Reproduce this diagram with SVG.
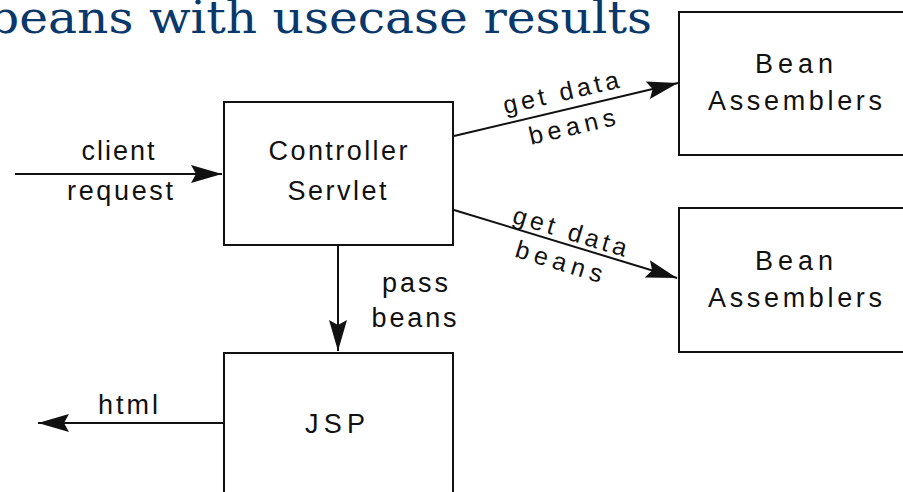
<svg xmlns="http://www.w3.org/2000/svg" width="903" height="492" viewBox="0 0 903 492">
<style>
.box{fill:#fff;stroke:#111;stroke-width:2}
.t{font-family:"Liberation Sans",Arial,sans-serif;font-size:27px;fill:#111;text-anchor:middle}
.s{font-family:"Liberation Sans",Arial,sans-serif;font-size:25px;fill:#111;text-anchor:middle}
.ln{stroke:#111;stroke-width:2;fill:none;marker-end:url(#ah)}
.title{font-family:"DejaVu Serif","Liberation Serif",serif;font-size:44px;fill:#0a386a}
</style>
<defs>
<marker id="ah" markerUnits="userSpaceOnUse" viewBox="-32 -11 34 22" refX="0" refY="0" markerWidth="34" markerHeight="22" orient="auto">
<path d="M0,0 L-31,-9 L-26,0 L-31,9 Z" fill="#111"/>
</marker>
</defs>
<rect width="903" height="492" fill="#fff"/>
<text class="title" x="-12" y="33" textLength="664" lengthAdjust="spacingAndGlyphs">beans with usecase results</text>

<g id="connectors">
<line class="ln" x1="15" y1="174" x2="222" y2="174"/>
<line class="ln" x1="223" y1="423" x2="38" y2="423"/>
<line class="ln" x1="338" y1="245" x2="338" y2="351"/>
<line class="ln" x1="454" y1="136" x2="678" y2="83"/>
<line class="ln" x1="454" y1="210" x2="677" y2="278"/>
<text class="t" x="118" y="160" textLength="73">client</text>
<text class="t" x="120" y="200" textLength="106">request</text>
<text class="t" x="128" y="414" textLength="60">html</text>
<text class="t" x="415" y="292" textLength="66">pass</text>
<text class="t" x="414" y="327" textLength="85">beans</text>
<g transform="translate(561,93) rotate(-13)"><text class="s" x="0" y="8" textLength="118">get data</text></g>
<g transform="translate(572,127) rotate(-13)"><text class="s" x="0" y="8" textLength="88">beans</text></g>
<g transform="translate(570,232) rotate(17)"><text class="s" x="0" y="8" textLength="118">get data</text></g>
<g transform="translate(559,262) rotate(17)"><text class="s" x="0" y="8" textLength="90">beans</text></g>
</g>

<g id="controller">
<rect class="box" x="224" y="102" width="229" height="143"/>
<text class="t" x="338" y="160" textLength="139">Controller</text>
<text class="t" x="337" y="200" textLength="99">Servlet</text>
</g>
<g id="assemblers1">
<rect class="box" x="679" y="12" width="240" height="143"/>
<text class="t" x="794" y="73" textLength="78">Bean</text>
<text class="t" x="795" y="110" textLength="174">Assemblers</text>
</g>
<g id="assemblers2">
<rect class="box" x="679" y="208" width="240" height="144"/>
<text class="t" x="794" y="270" textLength="78">Bean</text>
<text class="t" x="795" y="307" textLength="174">Assemblers</text>
</g>
<g id="jsp">
<rect class="box" x="224" y="353" width="229" height="160"/>
<text class="t" x="335" y="433" textLength="60">JSP</text>
</g>
</svg>
